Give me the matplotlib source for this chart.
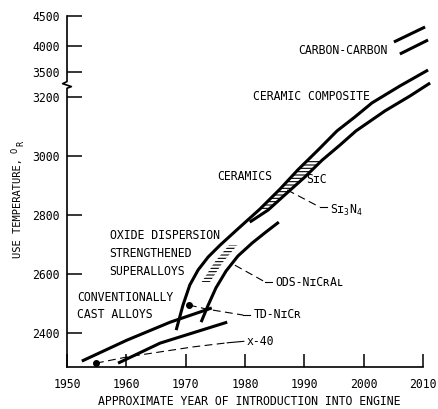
"""
Use temperature of engine materials against year of introduction.
Broken temperature axis drawn with a piecewise linear scale.
"""
import numpy as np
import matplotlib
matplotlib.use('Agg')
import matplotlib.pyplot as plt

plt.rcParams['font.family'] = ['DejaVu Sans Mono', 'DejaVu Sans']
plt.rcParams['mathtext.fontset'] = 'custom'
plt.rcParams['mathtext.rm'] = 'DejaVu Sans Mono'
plt.rcParams['hatch.linewidth'] = 0.8

# conventionally cast alloys (two lines)
cast_years = [1952.5, 1960.1, 1967.4, 1974.4]
cast_temps = [2305, 2376, 2437, 2485]
cast2_years = [1958.6, 1965.7, 1977.0]
cast2_temps = [2298, 2366, 2437]

# ODS left edge running on into ceramics / ceramic composite
upper_years = [1968.4, 1969.55, 1970.7, 1972.1, 1973.8, 1975.8, 1978.8, 1982.5,
               1985.9, 1988.9, 1992.3, 1995.5, 1998.5, 2001.4, 2006.1, 2010.85]
upper_temps = [2410, 2495, 2563, 2614, 2658, 2698, 2753, 2820,
               2888, 2953, 3020, 3085, 3132, 3180, 3332, 3538]

# ODS right edge
ods_years = [1972.6, 1973.8, 1975.1, 1976.8, 1978.8, 1981.2, 1983.5, 1985.7]
ods_temps = [2437, 2495, 2553, 2610, 2661, 2705, 2742, 2776]

# ceramics lower edge running on into ceramic composite
ceramic_years = [1980.8, 1983.9, 1986.7, 1990.1, 1993.0, 1996.0, 1998.7,
                 2003.6, 2007.8, 2011.2]
ceramic_temps = [2776, 2817, 2868, 2929, 2986, 3037, 3085, 3153, 3212, 3368]

# carbon-carbon
cc_upper_years = [2005.1, 2010.35]
cc_upper_temps = [4067, 4317]
cc_lower_years = [2006.1, 2010.85]
cc_lower_temps = [3846, 4100]

# single alloys with dashed leaders
x40_year, x40_temp = 1954.9, 2298
x40_dash_years = [1954.9, 1960.1, 1971.2, 1977.0]
x40_dash_temps = [2298, 2319, 2353, 2367]
x40_stub_years = [1977.0, 1979.8]
x40_stub_temps = [2367, 2372]

td_year, td_temp = 1970.56, 2495
td_dash_years = [1970.56, 1973.6, 1979.7]
td_dash_temps = [2495, 2481, 2461]
td_stub_years = [1979.7, 1980.9]
td_stub_temps = [2461, 2461]

ods_lead_years = [1978.3, 1983.4]
ods_lead_temps = [2630, 2573]
ods_stub_years = [1983.4, 1984.6]
ods_stub_temps = [2573, 2573]

sin_lead_years = [1987.1, 1992.6]
sin_lead_temps = [2885, 2827]
sin_stub_years = [1992.6, 1993.8]
sin_stub_temps = [2827, 2827]

# hatched bands
ods_hatch_temps = [2573, 2641, 2698]
ods_hatch_centre = [1973.4, 1975.6, 1978.0]
ceramic_hatch_temps = [2817, 2850, 2890, 2930, 2970, 2990]

ytick_values = [2400, 2600, 2800, 3000, 3200, 3500, 4000, 4500]
xtick_values = [1950, 1960, 1970, 1980, 1990, 2000, 2010]

# broken axis: temperature -> pixel height above the x axis
T_KNOTS = [0, 2285, 3200, 3500, 4000, 4500, 10000]
P_KNOTS = [-674, 0, 270, 295, 321, 351, 681]


def fwd(t):
    return np.interp(t, T_KNOTS, P_KNOTS)


def inv(p):
    return np.interp(p, P_KNOTS, T_KNOTS)


FS = 8.3
fig = plt.figure(figsize=(4.38, 4.09), dpi=100)
ax = fig.add_axes([67 / 438, 42 / 409, (431.9 - 67) / 438, 351 / 409])
ax.set_yscale('function', functions=(fwd, inv))
ax.set_xlim(1950, 2011.5)
ax.set_ylim(2285, 4500)
ax.minorticks_off()

thick = dict(color='black', linewidth=2.2, solid_capstyle='butt', clip_on=False)
thin = dict(color='black', linewidth=0.8, clip_on=False)
dash = dict(color='black', linewidth=0.8, dashes=(7, 4), clip_on=False)

ax.plot(cast_years, cast_temps, **thick)
ax.plot(cast2_years, cast2_temps, **thick)
ax.plot(upper_years, upper_temps, **thick)
ax.plot(ods_years, ods_temps, **thick)
ax.plot(ceramic_years, ceramic_temps, **thick)
ax.plot(cc_upper_years, cc_upper_temps, **thick)
ax.plot(cc_lower_years, cc_lower_temps, **thick)

ax.plot(x40_dash_years, x40_dash_temps, **dash)
ax.plot(x40_stub_years, x40_stub_temps, **thin)
ax.plot([x40_year], [x40_temp], 'o', color='black', markersize=4)
ax.plot(td_dash_years, td_dash_temps, **dash)
ax.plot(td_stub_years, td_stub_temps, **thin)
ax.plot([td_year], [td_temp], 'o', color='black', markersize=4)
ax.plot(ods_lead_years, ods_lead_temps, **dash)
ax.plot(ods_stub_years, ods_stub_temps, **thin)
ax.plot(sin_lead_years, sin_lead_temps, **dash)
ax.plot(sin_stub_years, sin_stub_temps, **thin)

# hatching
ods_c = np.array(ods_hatch_centre)
ax.fill_betweenx(ods_hatch_temps, ods_c - 0.7, ods_c + 0.7, facecolor='none',
                 edgecolor='black', linewidth=0, hatch='-----')
hl = np.interp(ceramic_hatch_temps, upper_temps, upper_years)
hr = np.interp(ceramic_hatch_temps, ceramic_temps, ceramic_years)
ax.fill_betweenx(ceramic_hatch_temps, hl, hr, facecolor='none',
                 edgecolor='black', linewidth=0, hatch='-----')

# labels
txt = dict(fontsize=FS, ha='left', va='center')
ax.text(1988.9, 3923, 'CARBON-CARBON', **txt)
ax.text(1981.35, 3200, 'CERAMIC COMPOSITE', **txt)
ax.text(1975.3, 2929, 'CERAMICS', **txt)
ax.text(1990.3, 2922, 'SɪC', **txt)
ax.text(1994.3, 2817, r'Sɪ$_\mathregular{3}$N$_\mathregular{4}$', **txt)
ax.text(1957.2, 2729, 'OXIDE DISPERSION', **txt)
ax.text(1957.2, 2671, 'STRENGTHENED', **txt)
ax.text(1957.2, 2610, 'SUPERALLOYS', **txt)
ax.text(1985.1, 2573, 'ODS-NɪCʀAʟ', **txt)
ax.text(1951.7, 2522, 'CONVENTIONALLY', **txt)
ax.text(1951.7, 2464, 'CAST ALLOYS', **txt)
ax.text(1981.4, 2464, 'TD-NɪCʀ', **txt)
ax.text(1980.3, 2373, 'x-40', **txt)

# axes frame
for side in ('top', 'right', 'left'):
    ax.spines[side].set_visible(False)
ax.spines['bottom'].set_bounds(1950, 2010)
ax.spines['bottom'].set_linewidth(1.2)
ytr = ax.get_yaxis_transform()
ax.plot([0, 0, 0.012, -0.012, 0, 0], [2285, 3305, 3325, 3360, 3385, 4500],
        color='black', linewidth=1.2, transform=ytr, clip_on=False)

ax.set_xticks(xtick_values)
ax.set_yticks(ytick_values)
ax.set_yticklabels([str(v) for v in ytick_values])
ax.tick_params(axis='x', direction='in', length=9.4, width=1.1, pad=8, labelsize=FS)
ax.tick_params(axis='y', direction='in', length=10.8, width=1.1, pad=5, labelsize=FS)

ax.set_xlabel('APPROXIMATE YEAR OF INTRODUCTION INTO ENGINE', fontsize=FS, labelpad=3)

# y label: text plus raised O and lowered R
fig.text(18 / 438, 1 - 208 / 409, 'USE TEMPERATURE,',
         rotation=90, ha='center', va='center', fontsize=7.5)
fig.text(15.5 / 438, 1 - 150 / 409, 'O', rotation=90, ha='center', va='center',
         fontsize=6.3)
fig.text(21 / 438, 1 - 143 / 409, 'R', rotation=90, ha='center', va='center',
         fontsize=6.3)

fig.savefig('out.png', dpi=100)
